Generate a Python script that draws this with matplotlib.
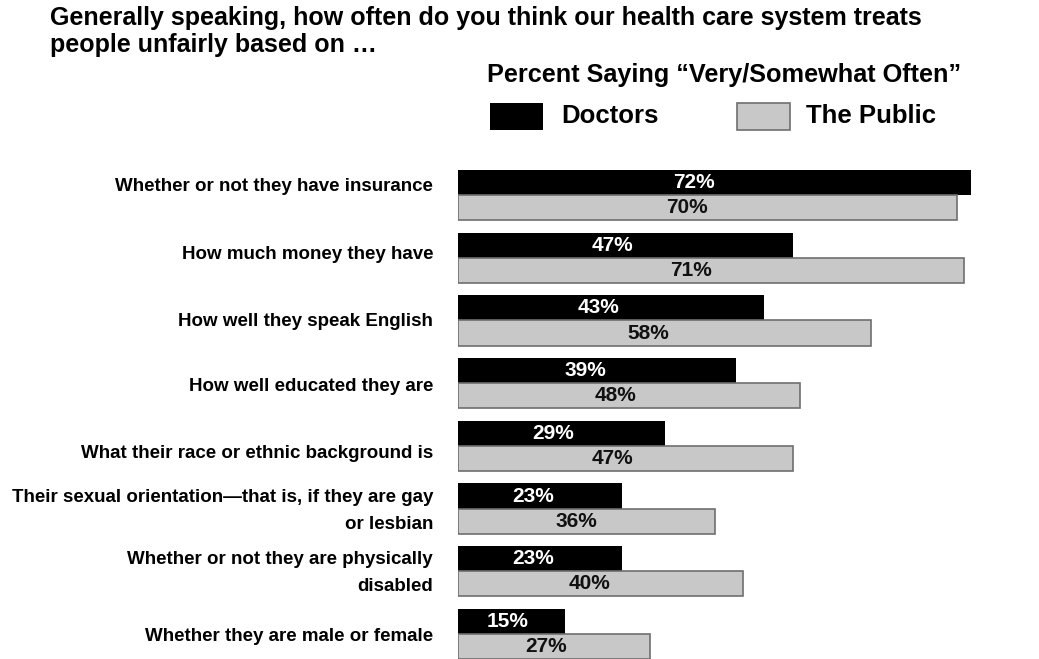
import matplotlib
matplotlib.use("Agg")
import matplotlib.pyplot as plt
from matplotlib.patches import Rectangle

plt.rcParams['font.family'] = ['Liberation Sans', 'DejaVu Sans']

categories = [
    "Whether or not they have insurance",
    "How much money they have",
    "How well they speak English",
    "How well educated they are",
    "What their race or ethnic background is",
    "Their sexual orientation\u2014that is, if they are gay\nor lesbian",
    "Whether or not they are physically\ndisabled",
    "Whether they are male or female",
]
doctors = [72, 47, 43, 39, 29, 23, 23, 15]
public = [70, 71, 58, 48, 47, 36, 40, 27]

W, H = 1039, 659
fig = plt.figure(figsize=(W / 100, H / 100), dpi=100)

# bars start at x=458; the 72% bar reaches x=971
x0, x1 = 458, 971
y_top, y_bot = 170, 659
ax = fig.add_axes([x0 / W, 1 - y_bot / H, (x1 - x0) / W, (y_bot - y_top) / H])
ax.set_xlim(0, 72)
h = 0.4
n = len(categories)
ax.set_ylim(n - 1 + h, -h)
ax.axis('off')

ys = list(range(n))
ax.barh([y - h / 2 for y in ys], doctors, height=h, color='black', edgecolor='none')
ax.barh([y + h / 2 for y in ys], public, height=h, color='#c8c8c8',
        edgecolor='#6e6e6e', linewidth=1.2)

val_fs = 15
lab_fs = 13.5
# vertical nudge (in row units) for the category labels
lab_shift = [-0.14, -0.06, 0.02, 0.06, 0.12, 0.03, 0.02, 0.04]

for y, d, p, lab, s in zip(ys, doctors, public, categories, lab_shift):
    ax.text(d * 0.46, y - h / 2, f"{d}%", color='white', fontsize=val_fs,
            fontweight='bold', ha='center', va='center')
    ax.text(p * 0.46, y + h / 2, f"{p}%", color='#111111', fontsize=val_fs,
            fontweight='bold', ha='center', va='center')
    lines = lab.split("\n")
    if len(lines) == 2:
        offs = [-0.2, 0.22]
    else:
        offs = [0.0]
    for line, o in zip(lines, offs):
        ax.annotate(line, xy=(0, y + o + s), xycoords='data', xytext=(-25, 0),
                    textcoords='offset pixels', ha='right', va='center',
                    fontsize=lab_fs, fontweight='bold')

# title
fig.text(50 / W, 1 - 18 / H,
         "Generally speaking, how often do you think our health care system treats",
         fontsize=18, fontweight='bold', ha='left', va='center')
fig.text(50 / W, 1 - 45 / H, "people unfairly based on \u2026",
         fontsize=18, fontweight='bold', ha='left', va='center')

# legend header and keys
fig.text(487 / W, 1 - 75 / H, "Percent Saying \u201cVery/Somewhat Often\u201d",
         fontsize=18.2, fontweight='bold', ha='left', va='center')
fig.add_artist(Rectangle((490 / W, 1 - 130 / H), 53 / W, 27 / H,
                         transform=fig.transFigure, facecolor='black',
                         edgecolor='none'))
fig.text(561 / W, 1 - 116 / H, "Doctors", fontsize=18.5, fontweight='bold',
         ha='left', va='center')
fig.add_artist(Rectangle((737 / W, 1 - 130 / H), 53 / W, 27 / H,
                         transform=fig.transFigure, facecolor='#c8c8c8',
                         edgecolor='#6e6e6e', linewidth=1.2))
fig.text(806 / W, 1 - 116 / H, "The Public", fontsize=18.5, fontweight='bold',
         ha='left', va='center')

fig.savefig("out.png", dpi=100, facecolor='white')
